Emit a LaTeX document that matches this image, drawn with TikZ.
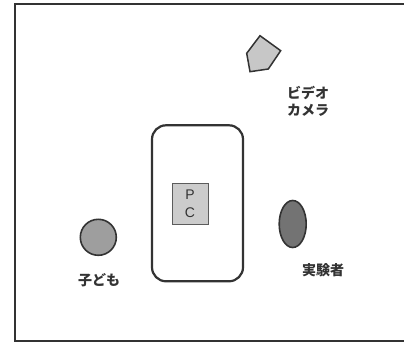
\documentclass[tikz,border=0pt]{standalone}
\usepackage{fontspec}
\setmainfont{Liberation Sans}
\newfontfamily\jp{Noto Sans CJK JP}
\usetikzlibrary{shapes.geometric}
\definecolor{ink}{HTML}{333333}
\tikzset{
  lbl/.style={font=\jp\bfseries\fontsize{14}{17}\selectfont, text=ink, inner sep=0pt, align=left},
  obj/.style={draw=ink, line width=1.6pt},
}
\begin{document}
\begin{tikzpicture}[x=1pt,y=-1pt]
\useasboundingbox (0,0) rectangle (404,342);
% room frame
\draw[draw=ink, line width=2pt] (410,4.5) -- (15,4.5) -- (15,340.5) -- (410,340.5);
% table
\node[draw=ink, line width=2.2pt, rounded corners=14pt, minimum width=91pt, minimum height=156pt, inner sep=0pt] (table) at (197.5,203.3) {};
% PC
\node[draw=ink!80, line width=0.9pt, fill=black!20, minimum width=36pt, minimum height=41pt, inner sep=0pt, align=center, font=\fontsize{14}{18}\selectfont, text=ink] (pc) at (190,203.5) {P\\C};
% camera
\draw[obj, line width=1.5pt, fill=black!22] (260,35.7) -- (280.7,50.7) -- (268.3,69) -- (250,71.7) -- (246.7,53.3) -- cycle;
\coordinate (cam) at (263,55);
\node[lbl, anchor=north west] (camlbl) at (287,86) {ビデオ\\カメラ};
% child
\node[obj, circle, fill=black!38, minimum size=36pt, inner sep=0pt] (child) at (98.3,237.3) {};
\node[lbl] (childlbl) at (99,280) {子ども};
% experimenter
\node[obj, ellipse, fill=black!55, minimum width=27pt, minimum height=47pt, inner sep=0pt] (exp) at (292.7,224) {};
\node[lbl] (explbl) at (323,270) {実験者};
\end{tikzpicture}
\end{document}
